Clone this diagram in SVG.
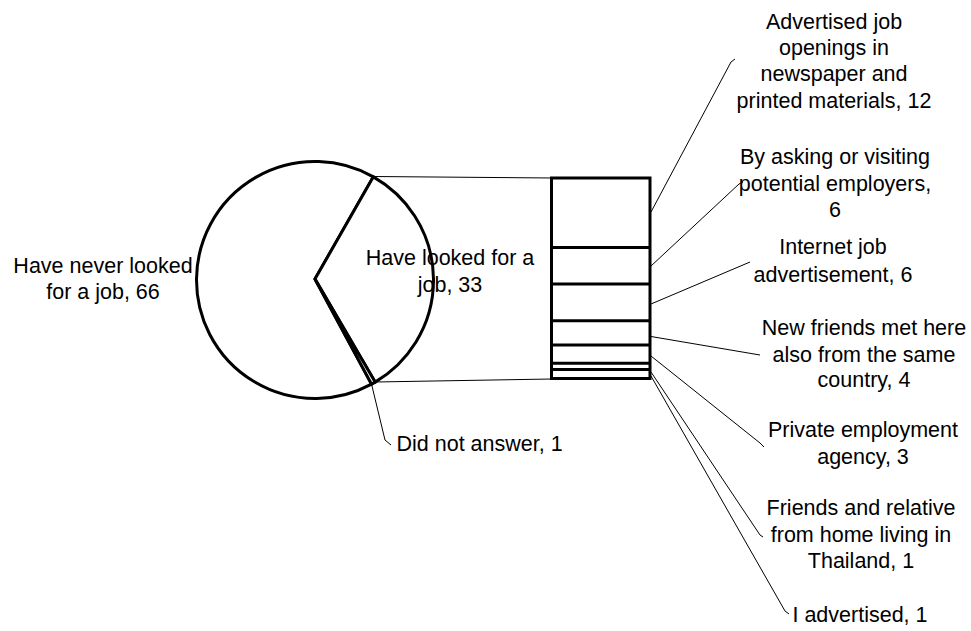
<svg xmlns="http://www.w3.org/2000/svg" width="971" height="631" viewBox="0 0 971 631">
<style>
.bg{fill:#fff}
.slice{fill:#fff;stroke:#000;stroke-width:3;stroke-linejoin:miter}
.bar{fill:#fff;stroke:#000;stroke-width:3}
.div{stroke:#000;stroke-width:3}
.lead{fill:none;stroke:#000;stroke-width:1}
text{font-family:"Liberation Sans",Arial,sans-serif;font-size:21.5px;fill:#000;text-anchor:middle}
</style>
<rect class="bg" x="0" y="0" width="971" height="631"/>
<g id="pie">
  <g id="slice-never"><path class="slice" d="M315,279 L373.35,176.86 A118.5,118.5 0 1 0 371.55,384.14 Z"/></g>
  <g id="slice-looked"><path class="slice" d="M315,279 L373.35,176.86 A118.5,118.5 0 0 1 375.14,382.1 Z"/></g>
  <g id="slice-noanswer"><path class="slice" d="M315,279 L375.14,382.1 A118.5,118.5 0 0 1 371.55,384.14 Z"/></g>
</g>
<g id="bar">
  <rect class="bar" x="551.5" y="178" width="98.5" height="200.5"/>
  <line class="div" x1="551.5" y1="247.5" x2="650" y2="247.5"/>
  <line class="div" x1="551.5" y1="284" x2="650" y2="284"/>
  <line class="div" x1="551.5" y1="320.7" x2="650" y2="320.7"/>
  <line class="div" x1="551.5" y1="345" x2="650" y2="345"/>
  <line class="div" x1="551.5" y1="363.3" x2="650" y2="363.3"/>
  <line class="div" x1="551.5" y1="369.5" x2="650" y2="369.5"/>
</g>
<g id="connectors">
  <line class="lead" x1="373.4" y1="176.5" x2="552" y2="178"/>
  <line class="lead" x1="375" y1="382" x2="552" y2="379"/>
  <polyline class="lead" points="371.5,384 385,440 391,445"/>
  <polyline class="lead" points="651,212 731,62 735,59"/>
  <polyline class="lead" points="651,266 739,184 743,182"/>
  <polyline class="lead" points="651,304 750,262"/>
  <polyline class="lead" points="651,336.5 760,355"/>
  <polyline class="lead" points="651,356 760,443 764,447"/>
  <polyline class="lead" points="651,372 760,535 763,537"/>
  <polyline class="lead" points="651,376 785,611 789,614"/>
</g>
<g id="label-never"><text x="103" y="273">Have never looked</text><text x="103" y="299">for a job, 66</text></g>
<g id="label-looked"><text x="450" y="264.5">Have looked for a</text><text x="450" y="292">job, 33</text></g>
<g id="label-noanswer"><text x="396.5" y="451" style="text-anchor:start">Did not answer, 1</text></g>
<g id="label-advertised"><text x="834" y="28.5">Advertised job</text><text x="834" y="54.5">openings in</text><text x="834" y="81">newspaper and</text><text x="834" y="107.5">printed materials, 12</text></g>
<g id="label-asking"><text x="835" y="163.5">By asking or visiting</text><text x="835" y="190.5">potential employers,</text><text x="835" y="217">6</text></g>
<g id="label-internet"><text x="833" y="254">Internet job</text><text x="833" y="281.5">advertisement, 6</text></g>
<g id="label-newfriends"><text x="864" y="335">New friends met here</text><text x="864" y="361.5">also from the same</text><text x="864" y="387">country, 4</text></g>
<g id="label-private"><text x="863" y="437">Private employment</text><text x="863" y="463.5">agency, 3</text></g>
<g id="label-friends"><text x="861" y="515">Friends and relative</text><text x="861" y="541.5">from home living in</text><text x="861" y="568">Thailand, 1</text></g>
<g id="label-iadvertised"><text x="860" y="622">I advertised, 1</text></g>
</svg>
